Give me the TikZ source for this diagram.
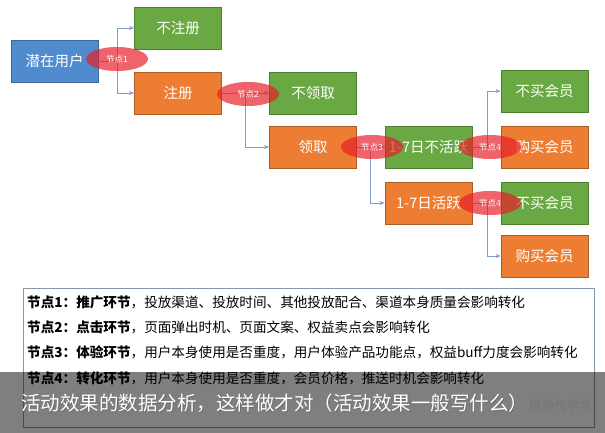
\documentclass[tikz,border=0pt]{standalone}
\usepackage{fontspec}
\setmainfont{Noto Sans CJK SC}
\usetikzlibrary{shapes.geometric,arrows.meta}
\definecolor{cblue}{RGB}{80,140,205}
\definecolor{cblueD}{RGB}{60,105,160}
\definecolor{cgreen}{RGB}{106,168,68}
\definecolor{cgreenD}{RGB}{80,126,50}
\definecolor{corange}{RGB}{236,125,50}
\definecolor{corangeD}{RGB}{175,92,35}
\definecolor{cline}{RGB}{125,155,205}
\definecolor{cred}{RGB}{232,28,38}
\definecolor{cframe}{RGB}{135,150,165}
\tikzset{
  box/.style={rectangle, minimum width=87pt, minimum height=42pt, inner sep=0pt,
    text=white, font=\fontsize{14.5}{16}\selectfont, line width=0.8pt},
  gbox/.style={box, fill=cgreen, draw=cgreenD},
  obox/.style={box, fill=corange, draw=corangeD},
  bbox/.style={box, fill=cblue, draw=cblueD},
  conn/.style={draw=cline, line width=0.9pt, -{Stealth[length=5pt,width=4pt]}},
  knot/.style={ellipse, minimum width=62pt, minimum height=24pt, inner sep=0pt,
    fill=cred, fill opacity=0.68, text opacity=1, text=white,
    font=\fontsize{8.5}{9}\selectfont},
  infoline/.style={anchor=west, inner sep=0pt, font=\fontsize{13.6}{15}\selectfont, text=black}
}
\begin{document}
\begin{tikzpicture}[x=1pt,y=-1pt]
\useasboundingbox (0,0) rectangle (605,433);
\fill[white] (0,0) rectangle (605,433);
% boxes
\node[bbox] (u) at (54.5,61) {潜在用户};
\node[gbox] (nz) at (178,28) {不注册};
\node[obox] (z) at (178,93) {注册};
\node[gbox] (nl) at (313,93) {不领取};
\node[obox] (l) at (313,147) {领取};
\node[gbox] (na) at (428.5,147) {1-7日不活跃};
\node[obox] (a) at (428.5,203) {1-7日活跃};
\node[gbox] (b1) at (544.5,91) {不买会员};
\node[obox] (b2) at (544.5,147) {购买会员};
\node[gbox] (b3) at (544.5,203) {不买会员};
\node[obox] (b4) at (544.5,256) {购买会员};
% connectors
\draw[conn] (u.east) -- ++(19,0) |- (nz.west);
\draw[conn] (u.east) -- ++(19,0) |- (z.west);
\draw[conn] (z.east) -- (nl.west);
\draw[conn] (z.east) -- ++(24,0) |- (l.west);
\draw[conn] (l.east) -- (na.west);
\draw[conn] (l.east) -- ++(14,0) |- (a.west);
\draw[conn] (na.east) -- (b2.west);
\draw[conn] (na.east) -- ++(15,0) |- (b1.west);
\draw[conn] (a.east) -- (b3.west);
\draw[conn] (a.east) -- ++(15,0) |- (b4.west);
% knots
\node[knot] (k1) at (117,59) {节点1};
\node[knot] (k2) at (248,94) {节点2};
\node[knot] (k3) at (372,147) {节点3};
\node[knot] (k4) at (490,147) {节点4};
\node[knot] (k5) at (490,203) {节点4};
% info box
\node[draw=cframe, line width=0.8pt, minimum width=571pt, minimum height=139pt, inner sep=0pt, anchor=north west] (info) at (23,288) {};
\node[infoline] (t1) at (27,302) {\textbf{节点1：推广环节}，投放渠道、投放时间、其他投放配合、渠道本身质量会影响转化};
\node[infoline] (t2) at (27,327) {\textbf{节点2：点击环节}，页面弹出时机、页面文案、权益卖点会影响转化};
\node[infoline] (t3) at (27,352) {\textbf{节点3：体验环节}，用户本身使用是否重度，用户体验产品功能点，权益buff力度会影响转化};
\node[infoline] (t4) at (27,378) {\textbf{节点4：转化环节}，用户本身使用是否重度，会员价格，推送时机会影响转化};
% overlay band
\fill[black, opacity=0.5] (0,372) rectangle (605,433);
\node[anchor=west, inner sep=0pt, text=black!55, opacity=0.8, font=\fontsize{12.5}{14}\selectfont] (wm) at (529,406) {接地气学堂};
\node[anchor=west, inner sep=0pt, text=black!60, opacity=0.6, font=\fontsize{19.5}{21}\selectfont] (capshadow) at (22,404) {活动效果的数据分析，这样做才对（活动效果一般写什么）};
\node[anchor=west, inner sep=0pt, text=white, font=\fontsize{19.5}{21}\selectfont] (cap) at (21,403) {活动效果的数据分析，这样做才对（活动效果一般写什么）};
\end{tikzpicture}
\end{document}
